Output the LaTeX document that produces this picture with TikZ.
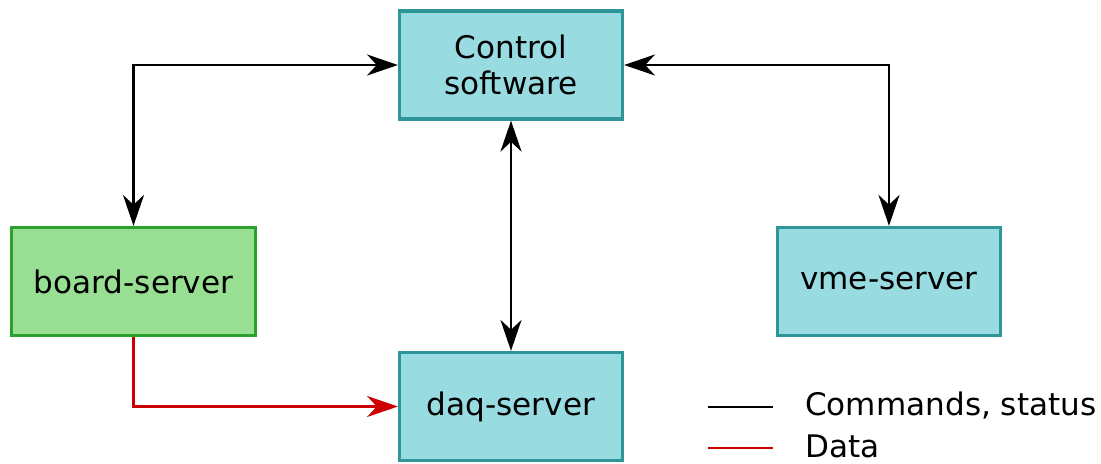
\documentclass[tikz,border=0pt]{standalone}
\usepackage{fontspec}
\setmainfont{DejaVu Sans}
\usetikzlibrary{arrows.meta, positioning}

\definecolor{boxfill}{HTML}{98DBE1}
\definecolor{boxline}{HTML}{2E9599}
\definecolor{greenfill}{HTML}{98DF94}
\definecolor{greenline}{HTML}{2CA02C}
\definecolor{datared}{HTML}{CC0000}

\begin{document}
\begin{tikzpicture}[x=0.025cm, y=-0.025cm, >={Stealth[length=22pt, width=15pt, inset=7pt]},
    box/.style={draw=boxline, fill=boxfill, line width=2.4pt, minimum width=5.57cm, minimum height=2.7cm,
        align=center, inner sep=0pt, font=\fontsize{22.1}{26}\selectfont},
    greenbox/.style={box, draw=greenline, fill=greenfill, minimum width=6.09cm},
    link/.style={line width=1.5pt},
    legtext/.style={anchor=west, inner sep=0pt, font=\fontsize{22.1}{26}\selectfont}]
\useasboundingbox (0, 0) rectangle (1101, 463);

\node[box] (ctrl) at (511, 65) {Control\\software};
\node[greenbox] (board) at (133.5, 281.5) {board-server};
\node[box] (vme) at (889, 281.5) {vme-server};
\node[box] (daq) at (511, 406.5) {daq-server};

\draw[link, <->] (ctrl.west) -| (board.north);
\draw[link, <->] (ctrl.east) -| (vme.north);
\draw[link, <->] (ctrl.south) -- (daq.north);
\draw[link, ->, datared] (board.south) |- (daq.west);

% legend
\coordinate (cmd0) at (708, 407);
\coordinate (cmd1) at (773, 407);
\coordinate (dat0) at (708, 448);
\coordinate (dat1) at (773, 448);
\draw[link] (cmd0) -- (cmd1);
\draw[link, datared] (dat0) -- (dat1);
\node[legtext] (cmdtext) at (805, 405) {Commands, status};
\node[legtext] (dattext) at (805, 446) {Data};
\end{tikzpicture}
\end{document}
